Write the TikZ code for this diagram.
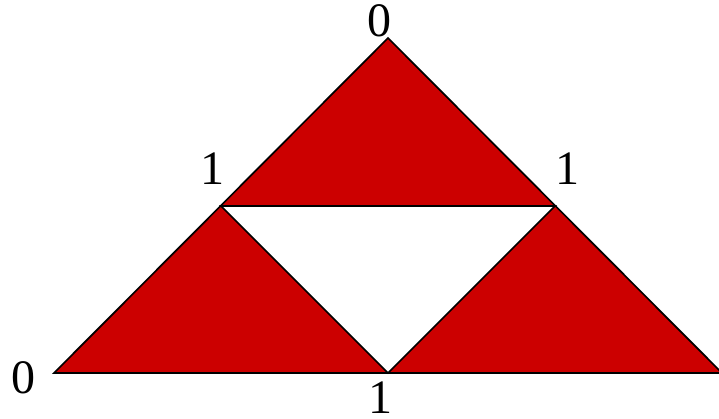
\documentclass[tikz,border=0pt]{standalone}
\usepackage{fontspec}
\setmainfont{Liberation Serif}
\definecolor{tri}{RGB}{204,0,0}
\begin{document}
\begin{tikzpicture}[x=1pt,y=-1pt,
  lbl/.style={inner sep=0pt,font=\fontsize{48}{48}\selectfont},
  edge/.style={draw=black,line width=1.7pt,line join=miter}]
\useasboundingbox (0,0) rectangle (719,418);
\coordinate (T) at (388,38);
\coordinate (L) at (54,373);
\coordinate (R) at (722,373);
\coordinate (ML) at (221,206);
\coordinate (MR) at (555,206);
\coordinate (MB) at (388,373);
\fill[tri] (T) -- (ML) -- (MR) -- cycle;
\fill[tri] (ML) -- (L) -- (MB) -- cycle;
\fill[tri] (MR) -- (MB) -- (R) -- cycle;
\draw[edge] (T) -- (L) -- (R) -- cycle;
\draw[edge] (ML) -- (MR) -- (MB) -- cycle;
\node[lbl] (lt) at (379,21) {0};
\node[lbl] (ll) at (212,169) {1};
\node[lbl] (lr) at (567,169) {1};
\node[lbl] (lbl0) at (23,378) {0};
\node[lbl] (lb) at (380,398) {1};
\end{tikzpicture}
\end{document}
